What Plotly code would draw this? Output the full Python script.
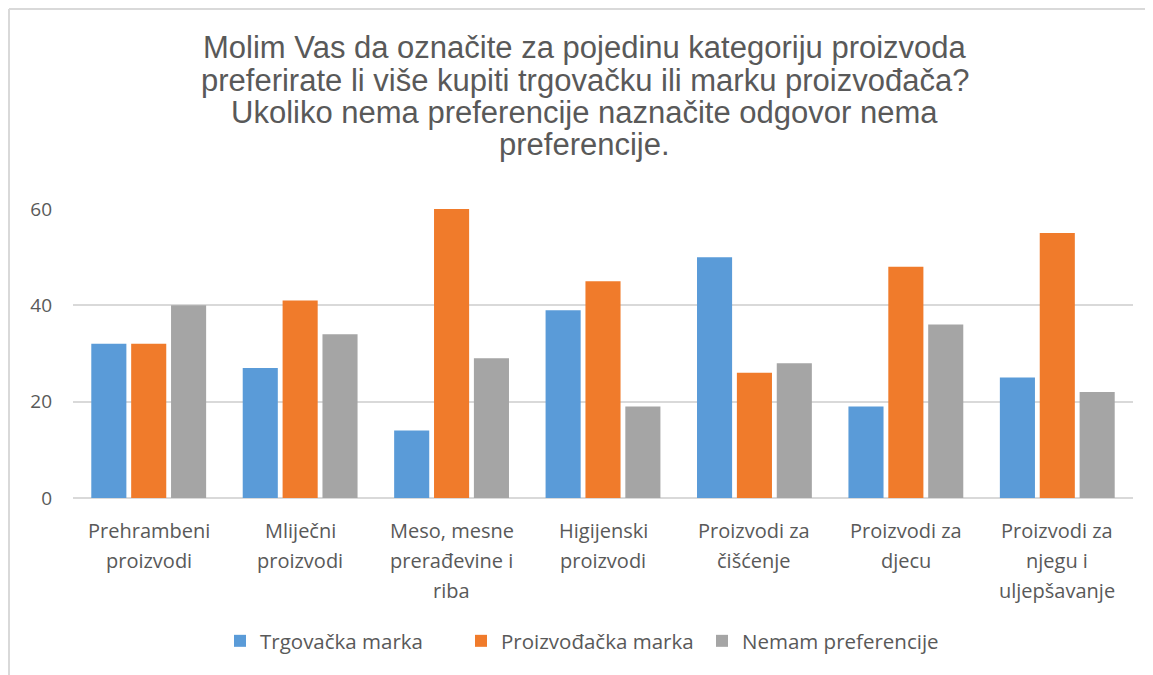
import plotly.graph_objects as go

# Data
categories = [
    "Prehrambeni proizvodi",
    "Mliječni proizvodi",
    "Meso, mesne prerađevine i riba",
    "Higijenski proizvodi",
    "Proizvodi za čišćenje",
    "Proizvodi za djecu",
    "Proizvodi za njegu i uljepšavanje",
]
tick_lines = [
    ["Prehrambeni", "proizvodi"],
    ["Mliječni", "proizvodi"],
    ["Meso, mesne", "prerađevine i", "riba"],
    ["Higijenski", "proizvodi"],
    ["Proizvodi za", "čišćenje"],
    ["Proizvodi za", "djecu"],
    ["Proizvodi za", "njegu i", "uljepšavanje"],
]
trgovacka = [32, 27, 14, 39, 50, 19, 25]
proizvodacka = [32, 41, 60, 45, 26, 48, 55]
nemam = [40, 34, 29, 19, 28, 36, 22]

title_lines = [
    "Molim Vas da označite za pojedinu kategoriju proizvoda",
    "preferirate li više kupiti trgovačku ili marku proizvođača?",
    "Ukoliko nema preferencije naznačite odgovor nema",
    "preferencije.",
]

series = [
    ("Trgovačka marka", trgovacka, "#5A9BD8"),
    ("Proizvođačka marka", proizvodacka, "#F07B2B"),
    ("Nemam preferencije", nemam, "#A5A5A5"),
]

# page has an 8px body margin, so the figure is a bit smaller than the window
W, H = 1145, 667
L, R, T, B = 65, 20, 201, 177
pw, ph = W - L - R, H - T - B
TEXT = "#595959"
GRID = "#D9D9D9"


def px_x(x):
    return (x - L) / pw


def px_y(y):
    return (H - B - y) / ph


fig = go.Figure()
for name, vals, color in series:
    fig.add_trace(go.Bar(
        x=categories, y=vals, name=name,
        marker=dict(color=color, line=dict(width=0)),
    ))

annotations = []
# title, one line per annotation to get the tight line spacing
for i, line in enumerate(title_lines):
    annotations.append(dict(
        x=px_x(W / 2 + 4), xref="paper", y=px_y(40 + 32.3 * i), yref="paper",
        xanchor="center", yanchor="middle", text=line, showarrow=False,
        font=dict(family="Liberation Sans", size=31, color=TEXT),
    ))

# category labels
for cat, lines in zip(categories, tick_lines):
    for i, line in enumerate(lines):
        annotations.append(dict(
            x=cat, xref="x", y=0, yref="paper", yanchor="middle",
            yshift=-32 - 30 * i, text=line, showarrow=False,
            font=dict(family="Open Sans", size=20, color=TEXT),
        ))

# chart border (left and top edges)
shapes = [
    dict(type="line", xref="paper", yref="paper", x0=px_x(1), x1=px_x(1),
         y0=px_y(H), y1=px_y(1), line=dict(color=GRID, width=2)),
    dict(type="line", xref="paper", yref="paper", x0=px_x(1), x1=px_x(W),
         y0=px_y(1), y1=px_y(1), line=dict(color=GRID, width=2)),
]

fig.update_layout(
    width=W, height=H,
    margin=dict(l=L, r=R, t=T, b=B),
    paper_bgcolor="white", plot_bgcolor="white",
    barmode="group", bargap=0.21, bargroupgap=0.12,
    xaxis=dict(showticklabels=False, showgrid=False, showline=False, ticks=""),
    yaxis=dict(
        range=[0, 60], dtick=20, showgrid=True, gridcolor=GRID, gridwidth=1.5,
        zeroline=True, zerolinecolor=GRID, zerolinewidth=1.5,
        tickfont=dict(family="Open Sans", size=19, color=TEXT),
        ticklabelstandoff=20, ticks="",
    ),
    legend=dict(
        orientation="h", x=px_x(212), xanchor="left", y=px_y(633), yanchor="middle",
        font=dict(family="Open Sans", size=20.5, color=TEXT),
        entrywidth=196, entrywidthmode="pixels", traceorder="normal",
    ),
    annotations=annotations,
    shapes=shapes,
)

fig.write_html("out.html")
